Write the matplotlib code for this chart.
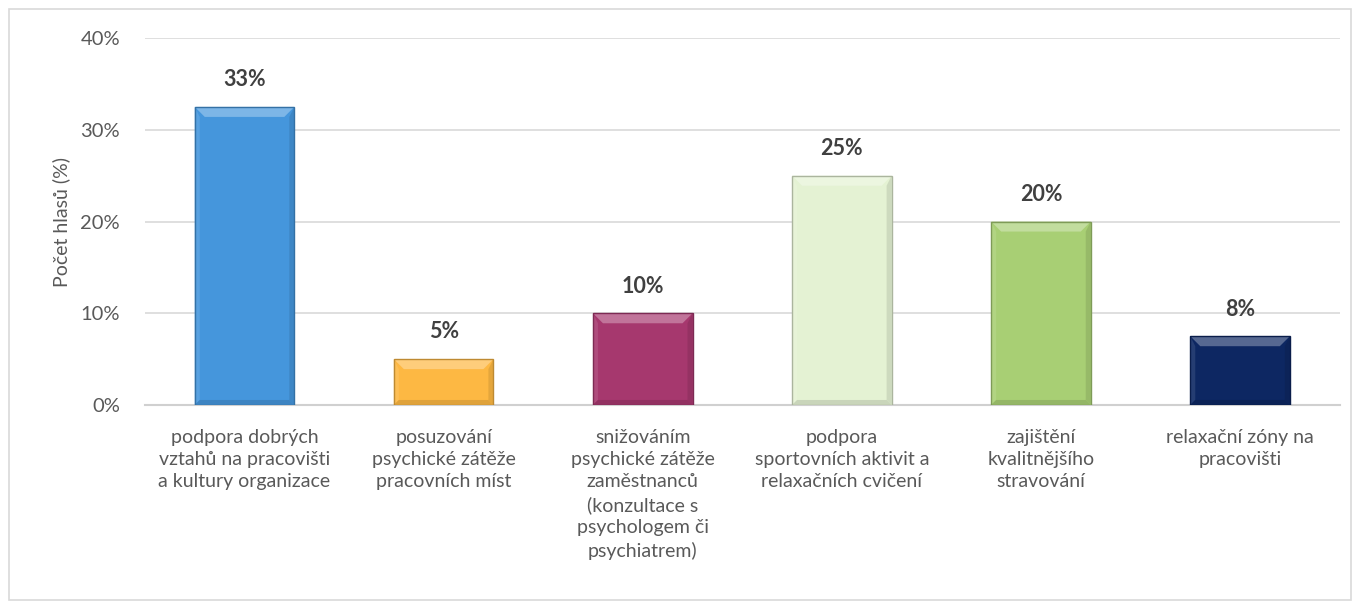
import matplotlib
matplotlib.use("Agg")
import matplotlib.pyplot as plt
import matplotlib.colors as mcolors
from matplotlib.patches import Polygon, Rectangle
from matplotlib.ticker import PercentFormatter

plt.rcParams["font.family"] = ["Lato", "DejaVu Sans"]

categories = [
    "podpora dobrých\nvztahů na pracovišti\na kultury organizace",
    "posuzování\npsychické zátěže\npracovních míst",
    "snižováním\npsychické zátěže\nzaměstnanců\n(konzultace s\npsychologem či\npsychiatrem)",
    "podpora\nsportovních aktivit a\nrelaxačních cvičení",
    "zajištění\nkvalitnějšího\nstravování",
    "relaxační zóny na\npracovišti",
]
values = [32.5, 5, 10, 25, 20, 7.5]
labels = ["33%", "5%", "10%", "25%", "20%", "8%"]
colors = ["#4596DC", "#FDB843", "#A6386E", "#E4F2D3", "#A8CF74", "#0D2762"]
yticks = [0, 10, 20, 30, 40]

fig = plt.figure(figsize=(13.6, 6.09), dpi=100)
ax = fig.add_axes([0.1066, 0.335, 0.8784, 0.6024])

x = range(len(values))
bars = ax.bar(x, values, width=0.5, color=colors, zorder=3, linewidth=0)

ax.set_ylim(0, 40)
ax.set_xlim(-0.5, len(values) - 0.5)
ax.set_yticks(yticks)
ax.yaxis.set_major_formatter(PercentFormatter(decimals=0))
ax.set_xticks(list(x))
ax.set_xticklabels(categories, fontsize=14, color="#595959", linespacing=1.38)
ax.tick_params(axis="y", labelsize=14.5, labelcolor="#595959", length=0, pad=18)
ax.tick_params(axis="x", length=0, pad=17)
ax.yaxis.grid(True, color="#D9D9D9", lw=1.2, zorder=0)
for s in ["top", "right", "left"]:
    ax.spines[s].set_visible(False)
ax.spines["bottom"].set_color("#D0D0D0")
ax.spines["bottom"].set_linewidth(1.5)
ax.set_ylabel("Počet hlasů (%)", fontsize=14, color="#595959", labelpad=7)

for b, lab in zip(bars, labels):
    ax.annotate(lab, (b.get_x() + b.get_width() / 2, b.get_height()),
                xytext=(0, 12), textcoords="offset points", ha="center",
                va="bottom", fontsize=15.5, fontweight="bold", color="#404040")

# bevel effect like Excel shapes
fig.canvas.draw()
for b, c in zip(bars, colors):
    (x0, y0), (x1, y1) = ax.transData.transform(
        [(b.get_x(), 0), (b.get_x() + b.get_width(), b.get_height())])
    d = min(10, (y1 - y0) / 3)
    s = d * 0.5
    base = mcolors.to_rgb(c)
    light = tuple(min(1, v + (1 - v) * 0.3) for v in base)
    dark = tuple(v * 0.75 for v in base)
    polys = [
        ([(x0, y1), (x1, y1), (x1 - d, y1 - d), (x0 + d, y1 - d)], light),
        ([(x0, y0), (x0, y1), (x0 + s, y1 - d), (x0 + s, y0 + s)],
         tuple(min(1, v + (1 - v) * 0.1) for v in base)),
        ([(x1, y0), (x1, y1), (x1 - s, y1 - d), (x1 - s, y0 + s)],
         tuple(v * 0.9 for v in base)),
        ([(x0, y0), (x1, y0), (x1 - s, y0 + s), (x0 + s, y0 + s)],
         tuple(v * 0.88 for v in base)),
    ]
    for pts, fc in polys:
        ax.add_patch(Polygon(pts, closed=True, transform=None, facecolor=fc,
                             edgecolor="none", zorder=4))
    ax.add_patch(Rectangle((x0, y0), x1 - x0, y1 - y0, transform=None,
                           facecolor="none", edgecolor=dark, lw=1.0, zorder=5))

fig.add_artist(Rectangle((9 / 1360, 9 / 609), 1 - 18 / 1360, 1 - 18 / 609,
                         transform=fig.transFigure, facecolor="none",
                         edgecolor="#D9D9D9", lw=1.2))

fig.savefig("out.png", dpi=100)
